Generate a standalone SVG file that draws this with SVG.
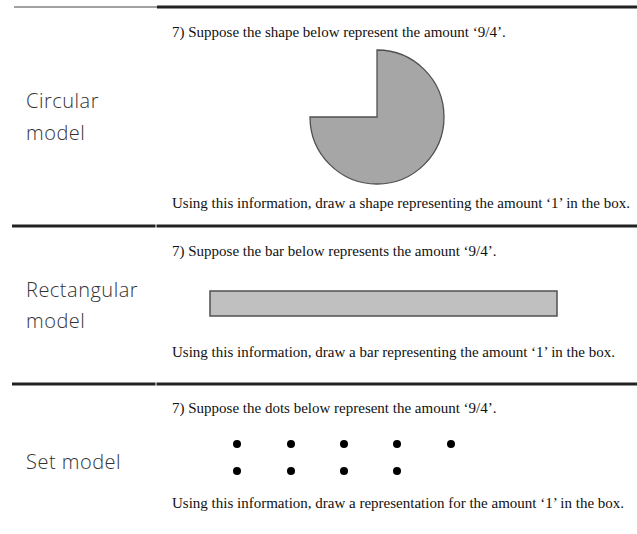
<svg xmlns="http://www.w3.org/2000/svg" width="637" height="534" viewBox="0 0 637 534">
<style>
.lbl{font-family:"Open Sans","Lato","Liberation Sans",sans-serif;font-size:20px;font-weight:300;letter-spacing:0.5px;fill:#333}
.q{font-family:"Liberation Serif","Times New Roman",serif;font-size:15px;fill:#111}
.thin{stroke:#444;stroke-width:1.2}
.thick{stroke:#222;stroke-width:2.8}
.dot{fill:#000}
</style>
<rect width="637" height="534" fill="#fff"/>
<g id="rules">
<line class="thin" x1="14" y1="7" x2="157" y2="7"/>
<line class="thick" x1="157" y1="7" x2="637" y2="7"/>
<line class="thick" x1="12" y1="226" x2="155.5" y2="226"/>
<line class="thick" x1="156.5" y1="226" x2="637" y2="226"/>
<line class="thick" x1="12" y1="384" x2="155.5" y2="384"/>
<line class="thick" x1="156.5" y1="384" x2="637" y2="384"/>
</g>
<g id="row-circular">
<text class="lbl" x="26" y="108">Circular</text>
<text class="lbl" x="26" y="140">model</text>
<text class="q" x="172" y="37">7) Suppose the shape below represent the amount ‘9/4’.</text>
<path id="pie" d="M377,117 L377,50 A67,67 0 1,1 310,117 Z" fill="#a6a6a6" stroke="#505050" stroke-width="1.3"/>
<text class="q" x="172" y="208">Using this information, draw a shape representing the amount ‘1’ in the box.</text>
</g>
<g id="row-rectangular">
<text class="lbl" x="26" y="297">Rectangular</text>
<text class="lbl" x="26" y="328">model</text>
<text class="q" x="172" y="256">7) Suppose the bar below represents the amount ‘9/4’.</text>
<rect id="bar" x="210" y="291" width="347" height="25" fill="#c0c0c0" stroke="#505050" stroke-width="1.5"/>
<text class="q" x="172" y="357">Using this information, draw a bar representing the amount ‘1’ in the box.</text>
</g>
<g id="row-set">
<text class="lbl" x="26" y="469">Set model</text>
<text class="q" x="172" y="413">7) Suppose the dots below represent the amount ‘9/4’.</text>
<g id="dots">
<circle class="dot" cx="237" cy="444" r="4"/>
<circle class="dot" cx="291" cy="444" r="4"/>
<circle class="dot" cx="344" cy="444" r="4"/>
<circle class="dot" cx="397" cy="444" r="4"/>
<circle class="dot" cx="451" cy="444" r="4"/>
<circle class="dot" cx="237" cy="471" r="4"/>
<circle class="dot" cx="291" cy="471" r="4"/>
<circle class="dot" cx="344" cy="471" r="4"/>
<circle class="dot" cx="397" cy="471" r="4"/>
</g>
<text class="q" x="172" y="508">Using this information, draw a representation for the amount ‘1’ in the box.</text>
</g>
</svg>
